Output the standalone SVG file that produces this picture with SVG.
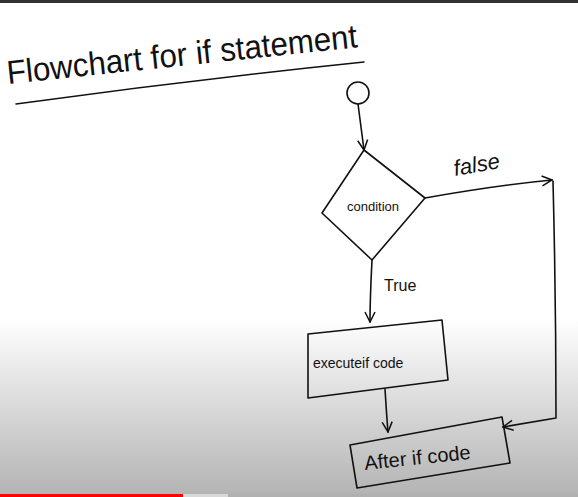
<svg xmlns="http://www.w3.org/2000/svg" width="578" height="497" viewBox="0 0 578 497">
<defs>
<linearGradient id="bg" x1="0" y1="0" x2="0" y2="1">
<stop offset="0" stop-color="#ffffff"/>
<stop offset="1" stop-color="#b4b4b4"/>
</linearGradient>
<marker id="arr" viewBox="0 0 12 12" refX="11" refY="6" markerWidth="12" markerHeight="12" markerUnits="userSpaceOnUse" orient="auto">
<path d="M1,1 L11,6 L1,11" fill="none" stroke="#111" stroke-width="1.5"/>
</marker>
<style>
.ln{fill:none;stroke:#111;stroke-width:1.6;stroke-linecap:round;stroke-linejoin:round}
.t{font-family:"Liberation Sans",sans-serif;fill:#111}
</style>
</defs>
<rect width="578" height="497" fill="#ffffff"/>
<rect x="0" y="318" width="578" height="176" fill="url(#bg)"/>
<rect x="0" y="0" width="578" height="3" fill="#333"/>
<rect x="0" y="494" width="578" height="3" fill="#b0b0b0"/>
<rect x="183" y="494" width="45" height="3" fill="#d8d8d8"/>
<rect x="0" y="494" width="183" height="3" fill="#ff0000"/>

<g id="title">
<text class="t" x="8" y="84" font-size="33" transform="rotate(-6 8 84)" textLength="352" lengthAdjust="spacingAndGlyphs">Flowchart for if statement</text>
<path class="ln" d="M16,104 Q190,80 364,62"/>
</g>

<g id="start">
<circle class="ln" cx="358" cy="93" r="11"/>
</g>

<g id="condition">
<path class="ln" d="M364,150 L425,198 L372,260 L322,213 Z"/>
<text class="t" x="373" y="211" font-size="13" text-anchor="middle">condition</text>
</g>

<g id="execute">
<path class="ln" d="M308,334 L442,320 L448,380 L308,398 Z"/>
<text class="t" x="313" y="368" font-size="14">executeif code</text>
</g>

<g id="after">
<path class="ln" d="M350,445 L502,417 L510,463 L357,488 Z"/>
<text class="t" x="365" y="470" font-size="20" transform="rotate(-6 365 470)">After if code</text>
</g>

<g id="connectors">
<path class="ln" d="M358,104 C360,120 362,135 364,150" marker-end="url(#arr)"/>
<path class="ln" d="M425,198 C470,190 510,184 552,180" marker-end="url(#arr)"/>
<path class="ln" d="M553,181 C555,260 556,340 556,418 L503,427" marker-end="url(#arr)"/>
<path class="ln" d="M372,260 C371,280 370,300 370,322" marker-end="url(#arr)"/>
<path class="ln" d="M385,389 C386,405 387,420 388,432" marker-end="url(#arr)"/>
<text class="t" x="455" y="176" font-size="22" font-style="italic" transform="rotate(-10 455 176)">false</text>
<text class="t" x="384" y="291" font-size="16">True</text>
</g>
</svg>
